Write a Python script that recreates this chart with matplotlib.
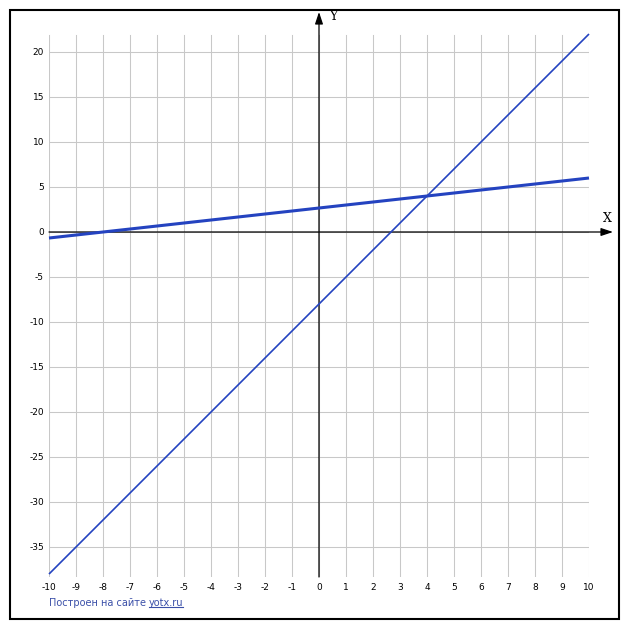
import matplotlib.pyplot as plt
from matplotlib.patches import Rectangle
from matplotlib.lines import Line2D
import numpy as np

# line equations: y = k*x + b
slopes = [3.0, 1.0 / 3.0]
intercepts = [-8.0, 8.0 / 3.0]
widths = [1.2, 2.2]

x_ticks = list(range(-10, 11))
y_ticks = list(range(-35, 21, 5))

x_min, x_max = -10, 10
y_min, y_max = -38.33, 22

W, H = 627, 630
fig = plt.figure(figsize=(W / 100, H / 100), dpi=100)

# axes box in pixels: left 49, right 589, top 34, bottom 577
ax = fig.add_axes([49 / W, (H - 577) / H, 540 / W, 543 / H])
ax.set_xlim(x_min, x_max)
ax.set_ylim(y_min, y_max)
ax.axis('off')

grid_c = '#c8c8c8'
for xv in x_ticks:
    ax.plot([xv, xv], [y_min, 21.9], color=grid_c, lw=0.75, zorder=1)
for yv in y_ticks:
    ax.plot([x_min, x_max], [yv, yv], color=grid_c, lw=0.75, zorder=1)

# axes with arrows
ax.annotate('', xy=(613 / W, (H - 232) / H), xycoords='figure fraction',
            xytext=(x_min, 0), textcoords='data',
            arrowprops=dict(arrowstyle='-|>,head_length=0.6,head_width=0.2',
                            color='black', lw=0.9,
                            mutation_scale=12, shrinkA=0, shrinkB=0), zorder=3)
ax.annotate('', xy=(319 / W, (H - 12) / H), xycoords='figure fraction',
            xytext=(0, y_min), textcoords='data',
            arrowprops=dict(arrowstyle='-|>,head_length=0.6,head_width=0.2',
                            color='black', lw=0.9,
                            mutation_scale=12, shrinkA=0, shrinkB=0), zorder=3)

fig.text(607 / W, (H - 218) / H, 'X', family='DejaVu Serif', fontsize=9,
         ha='center', va='center')
fig.text(333 / W, (H - 16) / H, 'Y', family='DejaVu Serif', fontsize=9,
         ha='center', va='center')

# graphs
xs = np.array([x_min, x_max])
for k, b, w in zip(slopes, intercepts, widths):
    ax.plot(xs, k * xs + b, color='#2443c0', lw=w, zorder=4,
            solid_capstyle='butt', clip_on=False)

# tick labels
for xv in x_ticks:
    ax.annotate(str(xv), xy=(xv, 0), xycoords=('data', 'axes fraction'),
                xytext=(0, -11), textcoords='offset pixels',
                ha='center', va='center', fontsize=6.5)
for yv in y_ticks:
    ax.annotate(str(yv), xy=(0, yv), xycoords=('axes fraction', 'data'),
                xytext=(-5, 0), textcoords='offset pixels',
                ha='right', va='center', fontsize=6.5)

# outer frame
fig.patches.append(Rectangle((9.5 / W, (H - 618.5) / H), 609 / W, 609 / H,
                             transform=fig.transFigure, fill=False,
                             edgecolor='black', lw=1.5))

# footer
link_c = '#3a4fa8'
t1 = fig.text(49 / W, (H - 603) / H, 'Построен на сайте ', color=link_c,
              fontsize=7, ha='left', va='center')
fig.canvas.draw()
bb = t1.get_window_extent()
t2 = fig.text(bb.x1 / W, (H - 603) / H, 'yotx.ru', color=link_c,
              fontsize=7, ha='left', va='center')
fig.canvas.draw()
bb2 = t2.get_window_extent()
fig.lines.append(Line2D([bb2.x0 / W, (bb2.x1 - 1) / H * H / W],
                        [(bb2.y0 + 1) / H, (bb2.y0 + 1) / H],
                        transform=fig.transFigure, color=link_c, lw=0.8))

fig.savefig('out.png', dpi=100)
